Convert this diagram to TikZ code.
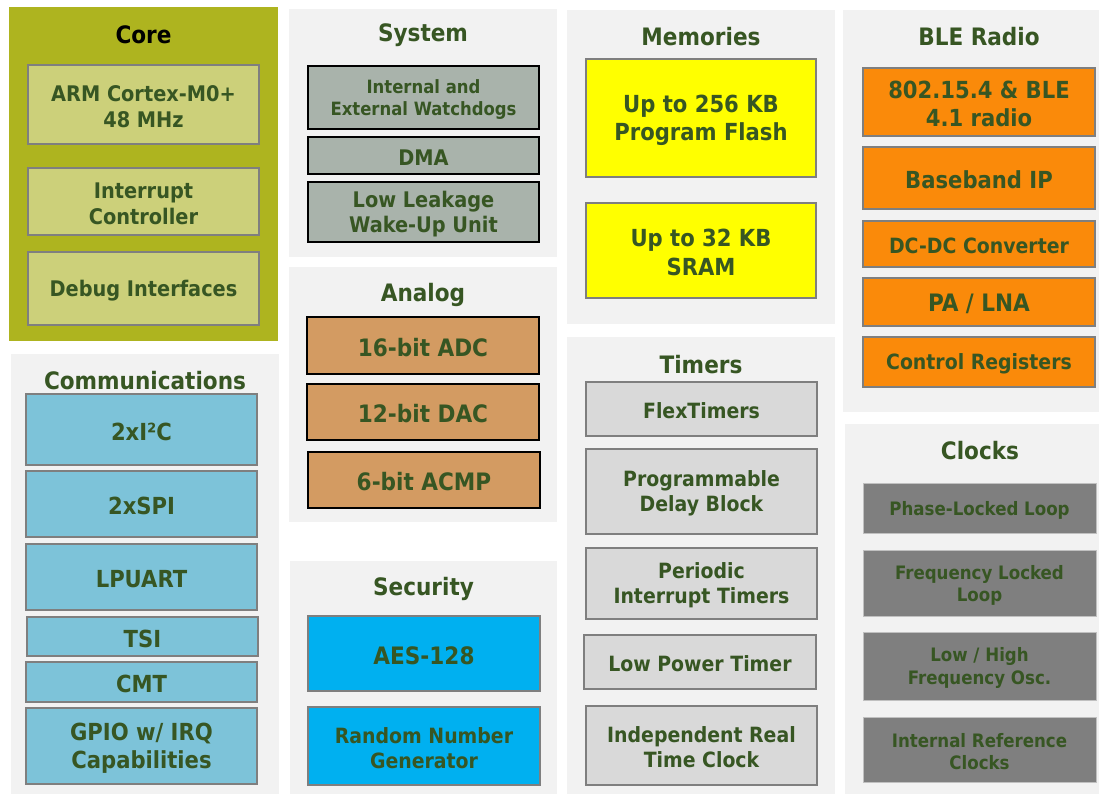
\documentclass[tikz,border=0pt]{standalone}
\usepackage{fontspec}
\setmainfont{DejaVu Sans Condensed}
\definecolor{panelbg}{HTML}{F2F2F2}
\definecolor{coreolive}{HTML}{AEB41F}
\definecolor{corebox}{HTML}{CCD07A}
\definecolor{sysbox}{HTML}{A9B3AB}
\definecolor{anabox}{HTML}{D39B62}
\definecolor{secbox}{HTML}{00B0F0}
\definecolor{membox}{HTML}{FFFF00}
\definecolor{blebox}{HTML}{FA8A0A}
\definecolor{tmrbox}{HTML}{D9D9D9}
\definecolor{clkbox}{HTML}{7F7F7F}
\definecolor{comtbox}{HTML}{7DC3D9}
\definecolor{edgegray}{HTML}{7F7F7F}
\definecolor{lightedge}{HTML}{C0C0C0}
\definecolor{txtgreen}{HTML}{375623}
% place a rectangular block from its corners (x1,y1)-(x2,y2), y pointing down,
% with its label as a separate node sitting slightly below the centre
\newcommand{\placebox}[7]{%
  \node[#1, minimum width={(#5)-(#3)}, minimum height={(#6)-(#4)}]
    (#2) at ({((#3)+(#5))/2},{((#4)+(#6))/2}) {};
  \node[#1, draw=none, fill=none, minimum width=0pt, minimum height=0pt]
    (#2txt) at ([yshift=-2pt]#2.center) {#7};}
\newcommand{\placepanel}[6]{%
  \node[panel, #1, minimum width={(#5)-(#3)}, minimum height={(#6)-(#4)}]
    (#2) at ({((#3)+(#5))/2},{((#4)+(#6))/2}) {};}
\tikzset{
  fs/.style={font=\bfseries\fontsize{#1pt}{\fpeval{1.2*#1}pt}\selectfont},
  panel/.style={fill=panelbg, draw=none, inner sep=0pt, outer sep=0pt},
  heading/.style={text=txtgreen, inner sep=0pt, fs=24},
  blk/.style={draw=edgegray, line width=2pt, inner sep=0pt, outer sep=0pt,
              align=center, text=txtgreen, fs=21},
  darkblk/.style={blk, draw=black},
  clkblk/.style={blk, draw=lightedge, line width=1pt, fill=clkbox, fs=18.5},
}
\begin{document}
\begin{tikzpicture}[x=1pt,y=-1pt]
\useasboundingbox[fill=white] (0,0) rectangle (1101,795);

% ---------------- Core ----------------
\placepanel{fill=coreolive}{core}{9}{7}{278}{341}
\node[heading, text=black] (coreT) at (143.5,35) {Core};
\placebox{blk, fill=corebox, fs=21.5}{cpu}{28}{65}{259}{144}{ARM Cortex-M0+\\48 MHz}
\placebox{blk, fill=corebox, fs=21.5}{nvic}{28}{168}{259}{235}{Interrupt\\Controller}
\placebox{blk, fill=corebox, fs=21.5}{dbg}{28}{252}{259}{325}{Debug Interfaces}

% ---------------- Communications ----------------
\placepanel{}{comm}{11}{354}{279}{794}
\node[heading] (commT) at (145,381) {Communications};
\placebox{blk, fill=comtbox, fs=23.5}{iic}{26}{394}{257}{465}{2xI²C}
\placebox{blk, fill=comtbox, fs=23.5}{spi}{26}{471}{257}{537}{2xSPI}
\placebox{blk, fill=comtbox, fs=23.5}{uart}{26}{544}{257}{610}{LPUART}
\placebox{blk, fill=comtbox, fs=23.5}{tsi}{27}{617}{258}{656}{TSI}
\placebox{blk, fill=comtbox, fs=23.5}{cmt}{26}{662}{257}{702}{CMT}
\placebox{blk, fill=comtbox, fs=23.5}{gpio}{26}{708}{257}{784}{GPIO w/ IRQ\\Capabilities}

% ---------------- System ----------------
\placepanel{}{sys}{289}{9}{557}{257}
\node[heading] (sysT) at (423,35) {System};
\placebox{darkblk, fill=sysbox, fs=18.3}{wdog}{308}{66}{539}{129}{Internal and\\External Watchdogs}
\placebox{darkblk, fill=sysbox, fs=21.5}{dma}{308}{137}{539}{174}{DMA}
\placebox{darkblk, fill=sysbox, fs=21.5}{llwu}{308}{182}{539}{242}{Low Leakage\\Wake-Up Unit}

% ---------------- Analog ----------------
\placepanel{}{ana}{289}{267}{557}{522}
\node[heading] (anaT) at (423,295) {Analog};
\placebox{darkblk, fill=anabox, fs=24}{adc}{307}{317}{539}{374}{16-bit ADC}
\placebox{darkblk, fill=anabox, fs=24}{dac}{307}{384}{539}{440}{12-bit DAC}
\placebox{darkblk, fill=anabox, fs=24}{acmp}{308}{452}{540}{508}{6-bit ACMP}

% ---------------- Security ----------------
\placepanel{}{sec}{290}{561}{557}{794}
\node[heading] (secT) at (423.5,589) {Security};
\placebox{blk, fill=secbox, fs=24}{aes}{308}{616}{540}{691}{AES-128}
\placebox{blk, fill=secbox, fs=21}{rng}{308}{707}{540}{785}{Random Number\\Generator}

% ---------------- Memories ----------------
\placepanel{}{mem}{567}{10}{835}{324}
\node[heading] (memT) at (701,37) {Memories};
\placebox{blk, fill=membox, fs=23.5}{flash}{586}{59}{816}{177}{Up to 256 KB\\Program Flash}
\placebox{blk, fill=membox, fs=23.5}{sram}{586}{203}{816}{298}{Up to 32 KB\\SRAM}

% ---------------- Timers ----------------
\placepanel{}{tmr}{567}{337}{835}{794}
\node[heading] (tmrT) at (701,365) {Timers};
\placebox{blk, fill=tmrbox}{ftm}{586}{382}{817}{436}{FlexTimers}
\placebox{blk, fill=tmrbox}{pdb}{586}{449}{817}{534}{Programmable\\Delay Block}
\placebox{blk, fill=tmrbox}{pit}{586}{548}{817}{619}{Periodic\\Interrupt Timers}
\placebox{blk, fill=tmrbox}{lptmr}{584}{635}{816}{689}{Low Power Timer}
\placebox{blk, fill=tmrbox}{rtc}{586}{706}{817}{785}{Independent Real\\Time Clock}

% ---------------- BLE Radio ----------------
\placepanel{}{ble}{843}{10}{1099}{412}
\node[heading] (bleT) at (979,37) {BLE Radio};
\placebox{blk, fill=blebox, fs=23.5}{radio}{863}{68}{1095}{136}{802.15.4 \& BLE\\4.1 radio}
\placebox{blk, fill=blebox, fs=23.5}{bb}{863}{147}{1095}{209}{Baseband IP}
\placebox{blk, fill=blebox}{dcdc}{863}{221}{1095}{267}{DC-DC Converter}
\placebox{blk, fill=blebox, fs=24}{pa}{863}{278}{1095}{326}{PA / LNA}
\placebox{blk, fill=blebox}{ctrl}{863}{337}{1095}{387}{Control Registers}

% ---------------- Clocks ----------------
\placepanel{}{clk}{845}{424}{1099}{794}
\node[heading] (clkT) at (980,451) {Clocks};
\placebox{clkblk}{pll}{863}{483}{1096}{533}{Phase-Locked Loop}
\placebox{clkblk}{fll}{863}{550}{1096}{616}{Frequency Locked\\Loop}
\placebox{clkblk}{osc}{863}{632}{1096}{700}{Low / High\\Frequency Osc.}
\placebox{clkblk}{irc}{863}{717}{1096}{782}{Internal Reference\\Clocks}
\end{tikzpicture}
\end{document}
